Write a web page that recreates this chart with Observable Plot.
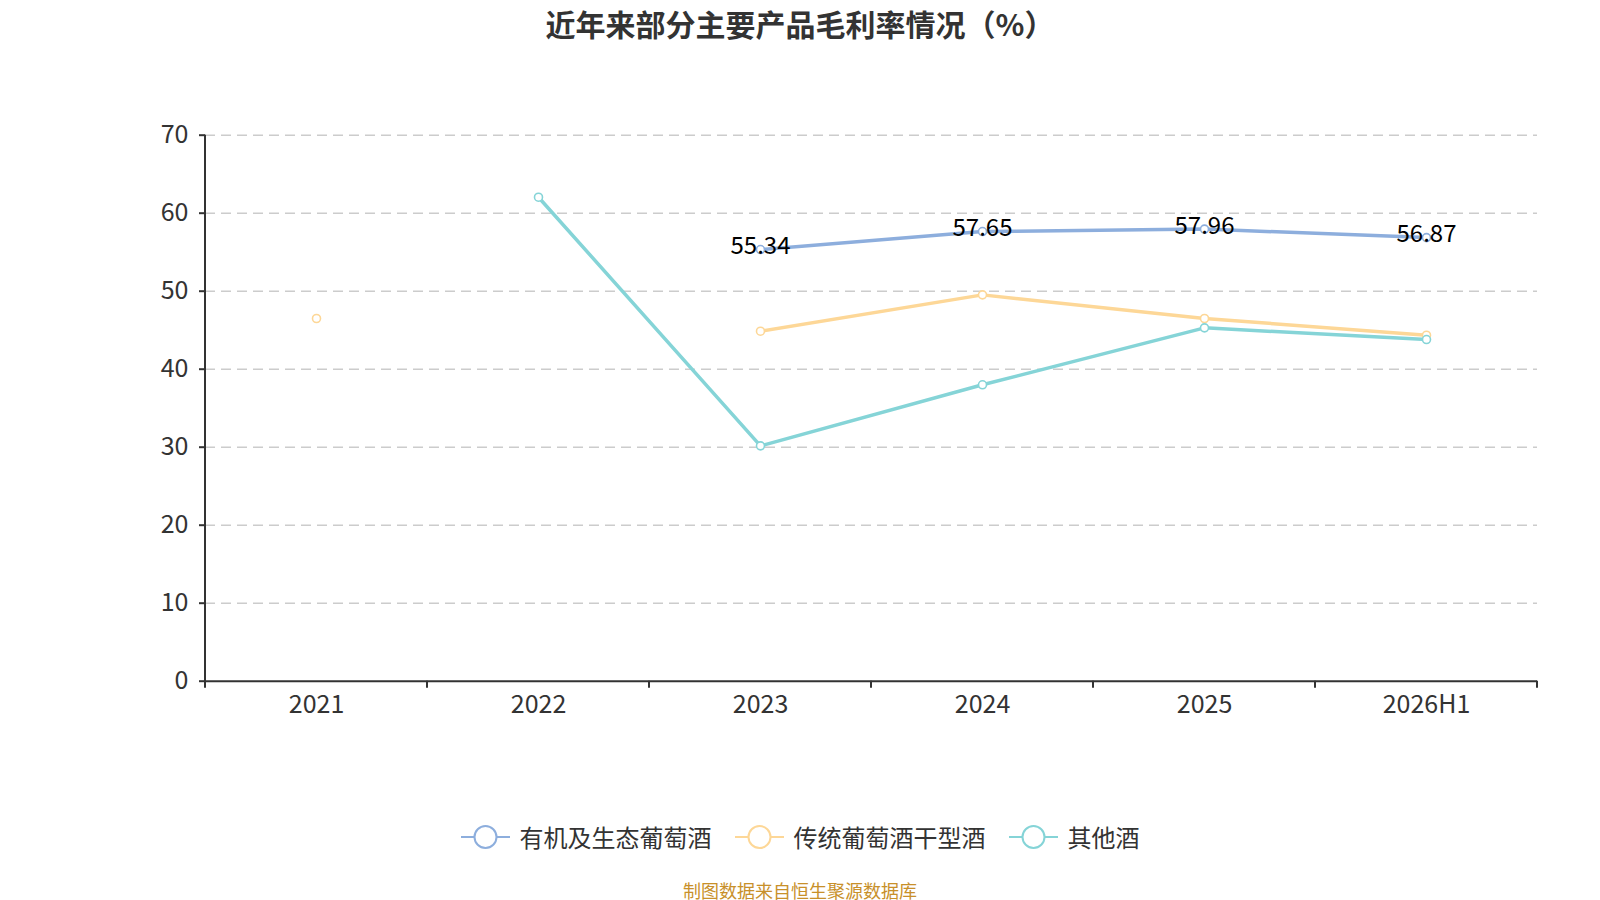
<!DOCTYPE html>
<html>
<head>
<meta charset="utf-8">
<script src="https://cdn.jsdelivr.net/npm/d3@7"></script>
<script src="https://cdn.jsdelivr.net/npm/@observablehq/plot@0.6"></script>
<style>
  html, body { margin: 0; padding: 0; background: #fff; }
  body { width: 1600px; height: 900px; position: relative; overflow: hidden;
         font-family: "Noto Sans CJK SC", "Noto Sans", sans-serif; }
  #title { position: absolute; left: 0; width: 1600px; top: 3px; text-align: center;
           font-size: 30px; font-weight: bold; color: #333; line-height: 40px; }
  #chart { position: absolute; left: 0; top: 0; }
  #legend { position: absolute; left: 0; width: 1600px; top: 821px; display: flex;
            justify-content: center; align-items: center; gap: 23px; }
  .item { display: flex; align-items: center; gap: 10px; font-size: 24px; color: #333; line-height: 32px; }
  #caption { position: absolute; left: 0; width: 1600px; top: 878px; text-align: center;
             font-size: 18px; color: #c8902a; line-height: 24px; }
</style>
</head>
<body>
<div id="chart"></div>
<div id="title">近年来部分主要产品毛利率情况（%）</div>
<div id="legend"></div>
<div id="caption">制图数据来自恒生聚源数据库</div>
<script>
const categories = ["2021", "2022", "2023", "2024", "2025", "2026H1"];
const seriesNames = ["有机及生态葡萄酒", "传统葡萄酒干型酒", "其他酒"];
const seriesColors = ["#8daedd", "#fdd797", "#85d4d7"];
const organicValues = [null, null, 55.34, 57.65, 57.96, 56.87];
const traditionalValues = [46.5, null, 44.87, 49.53, 46.5, 44.36];
const otherValues = [null, 62.05, 30.17, 38.0, 45.3, 43.8];
const yTicks = [0, 10, 20, 30, 40, 50, 60, 70];

const seriesValues = [organicValues, traditionalValues, otherValues];
const rows = [];
seriesNames.forEach((name, s) => {
  categories.forEach((c, i) => rows.push({series: name, cat: c, value: seriesValues[s][i]}));
});
const present = rows.filter(d => d.value != null);
const labelRows = present.filter(d => d.series === seriesNames[0]);

const W = 1600, H = 760;
const plot = Plot.plot({
  width: W, height: H,
  marginLeft: 205, marginRight: 63, marginTop: 134.7, marginBottom: 79.3,
  style: {fontFamily: '"Noto Sans CJK SC", "Noto Sans", sans-serif', background: "transparent"},
  x: {type: "band", domain: categories, padding: 0, label: null},
  y: {domain: [0, 70], label: null},
  color: {domain: seriesNames, range: seriesColors},
  marks: [
    Plot.gridY(yTicks.filter(t => t > 0), {stroke: "#cccccc", strokeOpacity: 1, strokeWidth: 1.5, strokeDasharray: "10,6"}),
    Plot.axisY(yTicks, {tickSize: 6, tickPadding: 11, fontSize: 25, fill: "#333", stroke: "#333", strokeWidth: 2, label: null, tickFormat: d => String(d)}),
    Plot.axisX({tickSize: 0, tickPadding: 14, fontSize: 25, fill: "#333", label: null}),
    Plot.ruleY([0], {stroke: "#333", strokeWidth: 2}),
    Plot.lineY(rows, {x: "cat", y: "value", z: "series", stroke: "series", strokeWidth: 3.5, curve: "linear"}),
    Plot.dot(present, {x: "cat", y: "value", stroke: "series", fill: "white", r: 4, strokeWidth: 1.6}),
    Plot.text(labelRows, {x: "cat", y: "value", text: d => d.value.toFixed(2), fontSize: 24, fill: "#000", dy: -3})
  ]
});
document.getElementById("chart").appendChild(plot);

// y axis line and category boundary ticks, from the plot's own scales
const xs = plot.scale("x");
const ys = plot.scale("y");
const svg = d3.select(plot);
const y0 = ys.apply(0), yTop = ys.apply(70);
const xLeft = xs.apply(categories[0]);
const bw = xs.bandwidth;
const g = svg.append("g").attr("stroke", "#333").attr("stroke-width", 2);
g.append("line").attr("x1", xLeft).attr("x2", xLeft).attr("y1", yTop).attr("y2", y0 + 7);
categories.forEach(c => {
  const xr = xs.apply(c) + bw;
  g.append("line").attr("x1", xr).attr("x2", xr).attr("y1", y0).attr("y2", y0 + 7);
});

// legend
const legend = document.getElementById("legend");
seriesNames.forEach((name, i) => {
  const item = document.createElement("div");
  item.className = "item";
  const s = d3.create("svg").attr("width", 49).attr("height", 26);
  s.append("line").attr("x1", 0).attr("x2", 49).attr("y1", 13).attr("y2", 13)
    .attr("stroke", seriesColors[i]).attr("stroke-width", 2);
  s.append("circle").attr("cx", 24.5).attr("cy", 13).attr("r", 11)
    .attr("fill", "white").attr("stroke", seriesColors[i]).attr("stroke-width", 2);
  item.appendChild(s.node());
  const t = document.createElement("span");
  t.textContent = name;
  item.appendChild(t);
  legend.appendChild(item);
});
</script>
</body>
</html>
